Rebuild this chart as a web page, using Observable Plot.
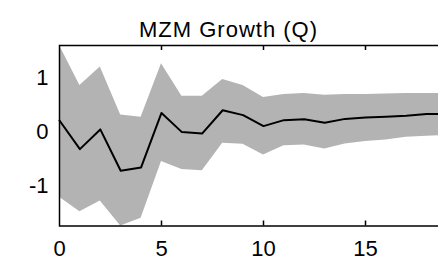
<!DOCTYPE html>
<html><head><meta charset="utf-8">
<script src="https://cdn.jsdelivr.net/npm/d3@7"></script>
<script src="https://cdn.jsdelivr.net/npm/@observablehq/plot@0.6"></script>
<style>html,body{margin:0;padding:0;background:#fff;overflow:hidden;width:438px;height:264px}#chart{width:438px;height:264px;overflow:hidden}#chart svg{max-width:none !important}</style>
</head><body><div id="chart"></div>
<script>
const horizon  = [0,1,2,3,4,5,6,7,8,9,10,11,12,13,14,15,16,17,18,19];
const response = [0.21,-0.32,0.045,-0.72,-0.66,0.35,-0.005,-0.03,0.40,0.31,0.106,0.217,0.235,0.17,0.24,0.265,0.28,0.30,0.33,0.33];
const upper    = [1.6,0.86,1.2,0.31,0.27,1.26,0.66,0.66,0.97,0.86,0.635,0.69,0.71,0.68,0.69,0.69,0.70,0.71,0.71,0.71];
const lower    = [-1.21,-1.48,-1.28,-1.745,-1.6,-0.55,-0.70,-0.72,-0.21,-0.23,-0.43,-0.26,-0.245,-0.32,-0.225,-0.18,-0.15,-0.10,-0.08,-0.07];
const xTickLabels = [0,5,10,15];
const xTickMarks = [5,10,15];
const yTicks = [-1,0,1];
const title = "MZM Growth (Q)";

const data = horizon.map((h,i)=>({h, mid: response[i], hi: upper[i], lo: lower[i]}));
const frameH = 264 - 45 - 38.5;
const plot = Plot.plot({
  width: 480, height: 264,
  marginLeft: 59, marginRight: 13, marginTop: 45, marginBottom: 38.5,
  x: {domain:[0,20], label:null},
  y: {domain:[-1.745,1.6], label:null},
  style: {fontFamily: "'Liberation Sans', Arial, sans-serif", background: "#fff", color:"#000", maxWidth:"none"},
  marks: [
    Plot.areaY(data, {x:"h", y1:"lo", y2:"hi", fill:"#b3b3b3"}),
    Plot.lineY(data, {x:"h", y:"mid", stroke:"#000", strokeWidth:2}),
    Plot.tickX(xTickMarks, {x:d=>d, insetBottom: frameH - 5, stroke:"#000", strokeWidth:1.5}),
    Plot.tickX(xTickMarks, {x:d=>d, insetTop: frameH - 5, stroke:"#000", strokeWidth:1.5}),
    Plot.frame({stroke:"#000", strokeWidth:1.5}),
    Plot.axisX(xTickLabels, {anchor:"bottom", tickSize:0, tickPadding:14, fontSize:22, tickFormat:d=>String(d)}),
    Plot.axisY(yTicks, {anchor:"left", tickSize:0, tickPadding:11, fontSize:22, tickFormat:d=>String(d)}),
    Plot.text([title], {text:d=>d, frameAnchor:"top", dx:-35, dy:-24, fontSize:22, className:"ttl", fill:"#000"})
  ]
});
plot.style.maxWidth = "none";
document.getElementById("chart").appendChild(plot);
d3.select(plot).selectAll(".ttl text").attr("letter-spacing","1px");
</script></body></html>
